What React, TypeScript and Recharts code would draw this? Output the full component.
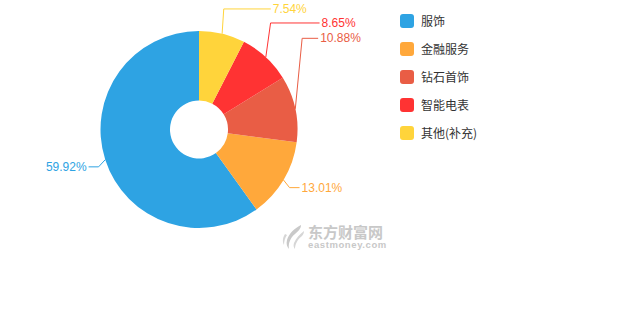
import React from 'react';
import { PieChart, Pie, Cell, Legend } from 'recharts';

const categories = ['服饰', '金融服务', '钻石首饰', '智能电表', '其他(补充)'];
const shares = [59.92, 13.01, 10.88, 8.65, 7.54];
const colors = ['#2ea3e3', '#ffa83b', '#e95d45', '#ff3333', '#ffd43b'];
// label layout tweaks (vertical shift of the label elbow, horizontal leader length)
const labelShiftY = [5, 4, -69, -29, -18];
const labelLen2 = [10, 10, 16, 49, 47];

const data = categories.map((name, i) => ({ name, value: shares[i] }));

const FONT = "'Liberation Sans', Arial, 'Noto Sans CJK SC', sans-serif";
const RAD = Math.PI / 180;

const renderLabel = (props: any) => {
  const { cx, cy, midAngle, outerRadius, index } = props;
  const c = Math.cos(-midAngle * RAD);
  const s = Math.sin(-midAngle * RAD);
  const x0 = cx + outerRadius * c;
  const y0 = cy + outerRadius * s;
  const R = outerRadius + 7;
  const x1 = cx + R * c;
  const y1 = cy + R * s + labelShiftY[index];
  const dir = c >= 0 ? 1 : -1;
  const x2 = x1 + dir * labelLen2[index];
  return (
    <g>
      <polyline
        points={`${x0},${y0} ${x1},${y1} ${x2},${y1}`}
        fill="none"
        stroke={colors[index]}
        strokeWidth={1}
      />
      <text
        x={x2 + dir * 2}
        y={y1}
        textAnchor={dir > 0 ? 'start' : 'end'}
        dominantBaseline="central"
        fill={colors[index]}
        fontSize={12}
        fontFamily={FONT}
      >
        {shares[index].toFixed(2)}%
      </text>
    </g>
  );
};

const renderLegend = () => (
  <div style={{ fontFamily: FONT }}>
    {categories.map((name, i) => (
      <div key={name} style={{ display: 'flex', alignItems: 'center', height: 28 }}>
        <span
          style={{
            width: 14,
            height: 14,
            borderRadius: 3,
            background: colors[i],
            display: 'inline-block',
            marginRight: 7,
          }}
        />
        <span style={{ fontSize: 12, color: '#333', fontFamily: "'Noto Sans CJK SC', sans-serif" }}>{name}</span>
      </div>
    ))}
  </div>
);

const Watermark = () => (
  <div style={{ position: 'absolute', left: 281, top: 224, display: 'flex', alignItems: 'flex-start', pointerEvents: 'none' }}>
    <svg width={24} height={26} viewBox="0 0 24 26">
      <path d="M20 1 C14 4 8 9 6 16 C5 20 6 23 8 25 C7 20 9 14 14 10 C17 7 20 5 20 1 Z" fill="#c9c9c9" />
      <path d="M23 7 C19 10 15 14 13 19 C12 22 13 24 14 25 C14 20 17 15 21 12 C22 11 23 9 23 7 Z" fill="#d6d6d6" />
      <path d="M4 10 C2 13 1 17 3 21 C3 17 4 14 6 11 Z" fill="#d6d6d6" />
    </svg>
    <div style={{ marginLeft: 3 }}>
      <div style={{ fontSize: 15, lineHeight: '15px', height: 15, color: '#c8c8c8', fontFamily: "'Noto Sans CJK SC', sans-serif", fontWeight: 700 }}>
        东方财富网
      </div>
      <div style={{ fontSize: 9.5, lineHeight: '10px', height: 10, color: '#c8c8c8', fontFamily: FONT, fontWeight: 700, letterSpacing: 0.6, marginTop: 1 }}>
        eastmoney.com
      </div>
    </div>
  </div>
);

export default function App() {
  return (
    <div style={{ position: 'absolute', left: 0, top: 0, width: 630, height: 330, background: '#fff' }}>
      <PieChart width={630} height={330} margin={{ top: 0, right: 0, bottom: 0, left: 0 }}>
        <Pie
          data={data}
          dataKey="value"
          nameKey="name"
          cx={199}
          cy={129.5}
          innerRadius={29}
          outerRadius={98.5}
          startAngle={90}
          endAngle={450}
          stroke="none"
          label={renderLabel}
          labelLine={false}
          isAnimationActive={false}
        >
          {data.map((d, i) => (
            <Cell key={d.name} fill={colors[i]} />
          ))}
        </Pie>
        <Legend
          layout="vertical"
          verticalAlign="top"
          align="right"
          content={renderLegend}
          wrapperStyle={{ left: 400, top: 6.5, width: 140 }}
        />
      </PieChart>
      <Watermark />
    </div>
  );
}
